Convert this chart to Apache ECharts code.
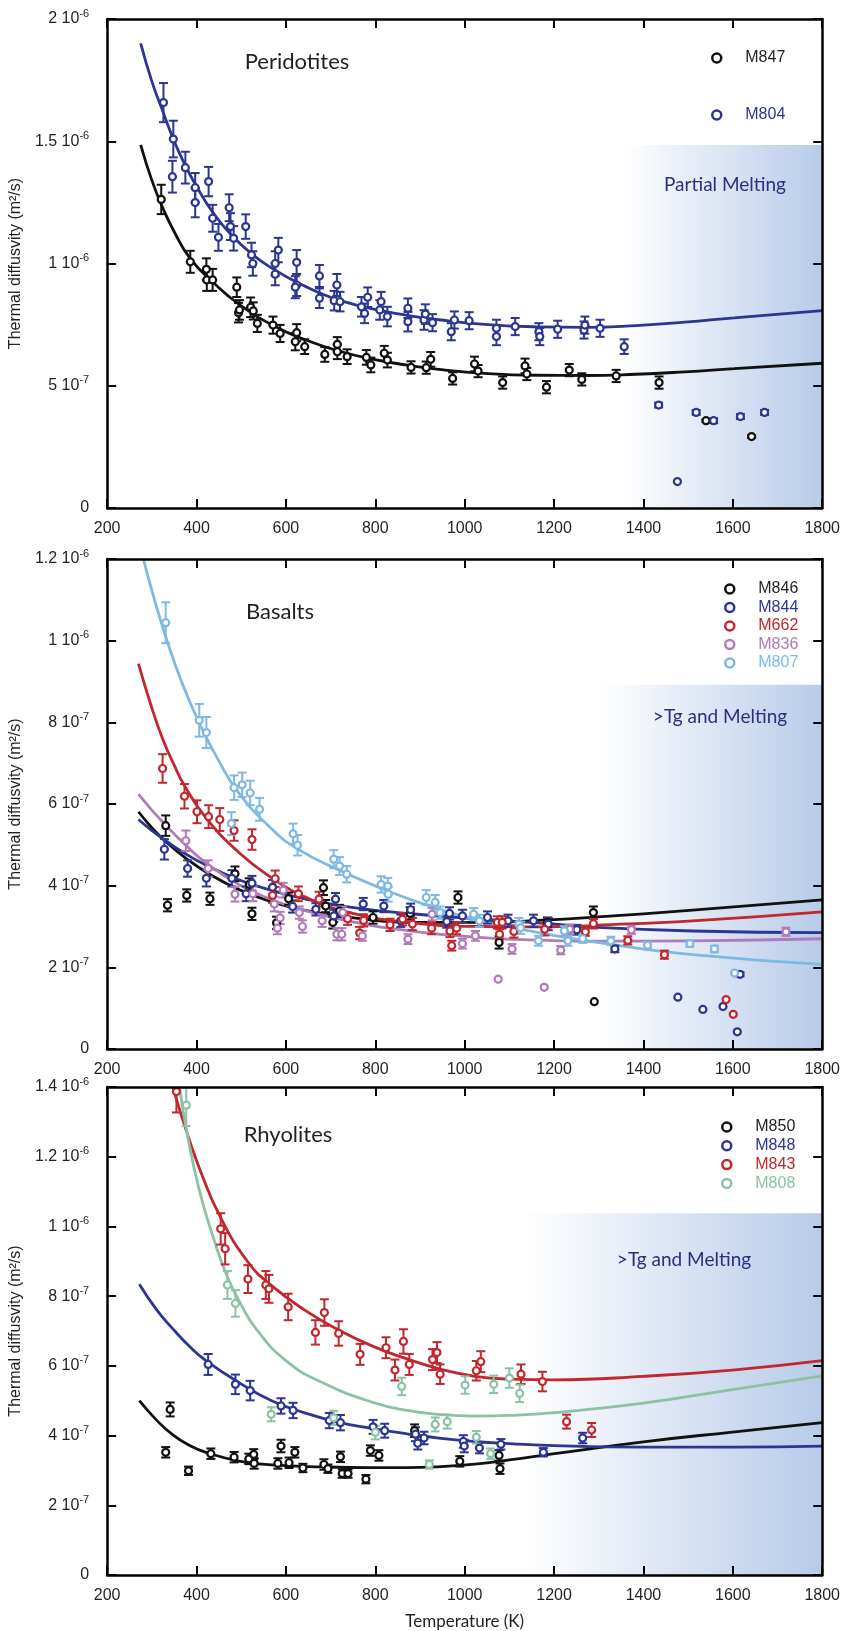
<!DOCTYPE html>
<html>
<head>
<meta charset="utf-8">
<script src="https://cdn.jsdelivr.net/npm/echarts@6/dist/echarts.min.js"></script>
<style>
html,body{margin:0;padding:0;background:#fff;}
#chart{width:843px;height:1631px;}
</style>
</head>
<body>
<div id="chart"></div>
<script>
// ---------- DATA (values in units of 1e-7 m²/s; [T (K), value, error]) ----------
const X_TICK_LABELS = ['200','400','600','800','1000','1200','1400','1600','1800'];
const Y_LABELS_TOP = ['0','5 10^-7','1 10^-6','1.5 10^-6','2 10^-6'];
const Y_LABELS_MID = ['0','2 10^-7','4 10^-7','6 10^-7','8 10^-7','1 10^-6','1.2 10^-6'];
const Y_LABELS_BOT = ['0','2 10^-7','4 10^-7','6 10^-7','8 10^-7','1 10^-6','1.2 10^-6','1.4 10^-6'];

// Peridotites
const M847 = [[321,12.62,0.6],[386,10.07,0.45],[422,9.76,0.45],[423,9.33,0.45],[436,9.33,0.45],[490,9.03,0.4],[494,7.99,0.4],[496,8.10,0.4],[521,8.21,0.4],[527,8.06,0.35],[536,7.55,0.35],[571,7.48,0.35],[587,7.14,0.35],[624,7.17,0.35],[621,6.80,0.35],[642,6.60,0.3],[687,6.28,0.3],[715,6.69,0.3],[715,6.39,0.3],[737,6.19,0.3],[780,6.16,0.3],[790,5.85,0.3],[820,6.33,0.3],[827,6.05,0.3],[880,5.75,0.25],[914,5.74,0.25],[924,6.08,0.3],[973,5.30,0.25],[1022,5.89,0.3],[1030,5.60,0.25],[1085,5.13,0.25],[1135,5.81,0.3],[1139,5.48,0.25],[1183,4.94,0.25],[1234,5.64,0.25],[1262,5.26,0.25],[1339,5.40,0.25],[1435,5.13,0.25],[1540,3.57,0.05],[1642,2.92,0.05]];
const M804 = [[326,16.58,0.8],[348,15.09,0.75],[346,13.55,0.65],[375,13.92,0.65],[397,13.10,0.6],[397,12.49,0.6],[427,13.35,0.6],[436,11.85,0.55],[449,11.07,0.55],[473,12.28,0.55],[476,11.51,0.55],[483,11.03,0.5],[510,11.51,0.5],[523,10.35,0.5],[526,10.00,0.5],[576,10.00,0.5],[576,9.56,0.45],[583,10.55,0.5],[624,10.05,0.5],[624,9.12,0.45],[621,9.03,0.45],[675,9.49,0.45],[675,8.58,0.4],[714,9.12,0.45],[708,8.48,0.4],[721,8.44,0.4],[769,8.23,0.4],[776,7.96,0.4],[783,8.62,0.4],[810,8.10,0.4],[813,8.44,0.4],[827,7.83,0.4],[873,8.17,0.4],[873,7.62,0.4],[909,7.69,0.4],[912,7.93,0.4],[928,7.58,0.35],[970,7.21,0.35],[977,7.69,0.35],[1010,7.66,0.35],[1071,7.35,0.35],[1071,7.01,0.35],[1113,7.42,0.35],[1166,7.21,0.35],[1168,7.01,0.35],[1208,7.31,0.35],[1267,7.28,0.35],[1269,7.48,0.35],[1303,7.35,0.35],[1357,6.60,0.3],[1434,4.21,0.1],[1476,1.08,0],[1518,3.91,0.1],[1557,3.57,0.1],[1617,3.74,0.1],[1671,3.91,0.1]];
const FIT_M847 = [[275,14.85],[300,13.4],[325,12.25],[350,11.3],[386,10.2],[436,9.25],[494,8.35],[576,7.42],[649,6.84],[722,6.4],[796,6.08],[869,5.85],[942,5.67],[1052,5.5],[1162,5.43],[1272,5.42],[1383,5.47],[1493,5.57],[1603,5.7],[1800,5.92]];
const FIT_M804 = [[275,19.0],[300,17.45],[326,16.15],[350,15.0],[375,14.0],[400,13.15],[436,12.1],[476,11.2],[526,10.35],[576,9.73],[621,9.26],[675,8.8],[722,8.48],[796,8.13],[869,7.89],[942,7.7],[1052,7.5],[1162,7.41],[1272,7.39],[1383,7.46],[1493,7.6],[1603,7.78],[1800,8.07]];

// Basalts
const M846 = [[331,5.47,0.25],[335,3.52,0.15],[378,3.76,0.15],[430,3.68,0.15],[486,4.29,0.18],[518,4.03,0.15],[524,3.31,0.15],[579,3.09,0.15],[606,3.68,0.15],[684,3.95,0.18],[689,3.50,0.15],[705,3.10,0.15],[720,3.38,0.15],[795,3.22,0.15],[878,3.32,0.15],[985,3.71,0.15],[1077,2.61,0.15],[1185,3.10,0.12],[1288,3.34,0.15],[1290,1.16,0]];
const M844 = [[328,4.89,0.25],[380,4.42,0.2],[422,4.18,0.2],[479,4.18,0.2],[511,3.80,0.18],[524,4.06,0.18],[570,3.96,0.18],[615,3.49,0.15],[667,3.42,0.15],[711,3.67,0.15],[707,3.26,0.15],[773,3.55,0.15],[819,3.50,0.15],[857,3.14,0.15],[879,3.41,0.15],[960,3.12,0.15],[966,3.32,0.15],[995,3.26,0.15],[1051,3.22,0.15],[1097,3.14,0.15],[1154,3.14,0.15],[1187,3.06,0.15],[1251,2.92,0.12],[1336,2.45,0.08],[1477,1.27,0],[1533,0.97,0],[1578,1.04,0],[1616,1.83,0.05],[1610,0.42,0]];
const M662 = [[324,6.87,0.35],[373,6.19,0.3],[401,5.81,0.28],[427,5.69,0.28],[452,5.62,0.28],[484,5.35,0.25],[524,5.13,0.25],[576,4.17,0.2],[570,3.76,0.18],[628,3.80,0.18],[674,3.67,0.18],[738,3.19,0.15],[765,2.84,0.15],[774,3.15,0.15],[833,3.04,0.15],[861,3.18,0.15],[883,3.06,0.15],[926,2.96,0.15],[967,2.89,0.15],[971,2.53,0.12],[982,2.96,0.15],[1073,3.10,0.15],[1078,2.81,0.12],[1084,3.10,0.15],[1110,2.88,0.15],[1179,2.93,0.15],[1270,2.87,0.1],[1288,3.07,0.12],[1365,2.66,0.1],[1447,2.31,0.1],[1585,1.21,0],[1601,0.85,0]];
const M836 = [[376,5.10,0.25],[426,4.42,0.2],[486,3.79,0.18],[526,3.80,0.18],[574,3.55,0.18],[581,2.96,0.15],[587,3.21,0.15],[594,3.89,0.18],[630,3.34,0.15],[637,3.00,0.15],[681,3.14,0.15],[727,3.34,0.15],[714,2.81,0.15],[725,2.81,0.15],[771,2.77,0.12],[873,2.69,0.12],[927,3.30,0.15],[995,2.58,0.12],[1024,2.77,0.12],[1075,1.71,0],[1106,2.45,0.12],[1178,1.51,0],[1215,2.42,0.1],[1235,2.93,0.12],[1373,2.92,0.1],[1719,2.87,0.1]];
const M807 = [[331,10.44,0.5],[406,8.05,0.4],[422,7.75,0.38],[478,5.52,0.28],[484,6.40,0.3],[502,6.47,0.3],[520,6.27,0.3],[541,5.87,0.28],[616,5.27,0.25],[626,4.99,0.25],[707,4.65,0.22],[720,4.48,0.22],[736,4.28,0.2],[813,4.03,0.2],[828,3.99,0.2],[829,3.79,0.18],[914,3.71,0.18],[934,3.59,0.18],[945,3.34,0.15],[1020,3.30,0.15],[1033,3.14,0.15],[1121,3.06,0.15],[1125,2.97,0.15],[1165,2.65,0.12],[1223,2.89,0.12],[1231,2.65,0.12],[1264,2.70,0.1],[1327,2.65,0.1],[1409,2.54,0.08],[1504,2.58,0.08],[1559,2.45,0.08],[1604,1.86,0]];
const FIT_M846 = [[270,5.81],[300,5.42],[331,5.08],[375,4.68],[422,4.33],[496,3.9],[570,3.6],[637,3.41],[747,3.22],[894,3.1],[1040,3.1],[1187,3.16],[1290,3.23],[1510,3.4],[1800,3.65]];
const FIT_M844 = [[270,5.62],[300,5.35],[331,5.1],[375,4.78],[422,4.5],[496,4.14],[570,3.88],[637,3.69],[747,3.47],[894,3.3],[1040,3.18],[1187,3.07],[1290,2.98],[1510,2.89],[1800,2.85]];
const FIT_M662 = [[270,9.44],[300,8.35],[324,7.6],[350,6.95],[373,6.45],[422,5.65],[496,4.8],[570,4.18],[637,3.75],[747,3.33],[894,3.08],[1040,3.0],[1187,2.99],[1290,3.03],[1510,3.14],[1800,3.36]];
const FIT_M836 = [[270,6.24],[300,5.85],[331,5.48],[375,5.0],[422,4.55],[496,4.02],[570,3.65],[630,3.43],[747,3.12],[894,2.87],[1040,2.73],[1187,2.66],[1290,2.64],[1510,2.65],[1800,2.7]];
const FIT_M807 = [[281,12.0],[306,11.0],[331,10.1],[368,8.95],[406,7.99],[450,7.05],[496,6.25],[570,5.37],[626,4.9],[711,4.42],[821,3.9],[916,3.52],[1004,3.23],[1114,2.96],[1223,2.74],[1327,2.56],[1510,2.31],[1800,2.07]];

// Rhyolites
const M850 = [[331,3.52,0.15],[341,4.75,0.2],[382,2.99,0.12],[432,3.48,0.15],[484,3.38,0.15],[517,3.33,0.15],[528,3.46,0.15],[529,3.20,0.15],[582,3.20,0.15],[589,3.70,0.18],[607,3.22,0.15],[620,3.52,0.15],[638,3.07,0.12],[685,3.17,0.15],[694,3.05,0.12],[722,3.39,0.15],[726,2.91,0.12],[739,2.91,0.12],[779,2.75,0.12],[789,3.57,0.15],[808,3.43,0.15],[888,4.14,0.18],[989,3.26,0.15],[1077,3.43,0.15],[1079,3.05,0.15]];
const M848 = [[426,6.04,0.3],[487,5.47,0.28],[520,5.29,0.28],[589,4.85,0.22],[616,4.72,0.22],[697,4.43,0.22],[722,4.37,0.22],[795,4.25,0.2],[821,4.14,0.2],[890,4.04,0.2],[895,3.78,0.18],[909,3.93,0.18],[997,3.83,0.18],[999,3.70,0.18],[1033,3.64,0.15],[1081,3.75,0.15],[1176,3.52,0.12],[1264,3.93,0.15]];
const M843 = [[355,13.87,0.6],[454,9.93,0.45],[464,9.36,0.45],[515,8.49,0.4],[555,8.32,0.4],[562,8.21,0.4],[605,7.69,0.38],[666,6.96,0.35],[686,7.53,0.38],[718,6.93,0.35],[766,6.33,0.3],[824,6.52,0.3],[844,5.88,0.3],[863,6.70,0.35],[876,6.04,0.3],[928,6.18,0.3],[938,6.38,0.3],[945,5.76,0.28],[1026,5.86,0.28],[1036,6.12,0.3],[1126,5.76,0.28],[1174,5.55,0.28],[1228,4.40,0.2],[1284,4.16,0.2]];
const M808 = [[377,13.48,0.6],[469,8.32,0.4],[487,7.79,0.38],[567,4.61,0.2],[707,4.51,0.2],[800,4.09,0.2],[859,5.41,0.25],[921,3.17,0.12],[934,4.32,0.2],[961,4.40,0.2],[1001,5.45,0.25],[1026,3.95,0.18],[1058,3.48,0.15],[1065,5.47,0.25],[1100,5.65,0.28],[1123,5.21,0.25]];
const FIT_M850 = [[272,5.0],[310,4.45],[347,4.02],[384,3.72],[421,3.52],[495,3.27],[568,3.16],[685,3.1],[795,3.08],[871,3.08],[947,3.11],[1023,3.18],[1100,3.3],[1201,3.48],[1400,3.82],[1599,4.1],[1800,4.37]];
const FIT_M848 = [[272,8.34],[310,7.62],[347,7.06],[384,6.56],[421,6.15],[495,5.52],[568,5.0],[640,4.66],[718,4.38],[795,4.2],[871,4.05],[947,3.92],[1023,3.83],[1100,3.77],[1201,3.71],[1400,3.67],[1599,3.67],[1800,3.7]];
const FIT_M843 = [[347,14.0],[377,12.75],[410,11.55],[454,10.25],[515,8.98],[568,8.3],[642,7.6],[718,7.03],[795,6.56],[871,6.2],[947,5.9],[1023,5.7],[1100,5.62],[1201,5.6],[1400,5.7],[1599,5.88],[1800,6.15]];
const FIT_M808 = [[362,14.0],[377,12.8],[405,11.1],[439,9.62],[469,8.55],[500,7.75],[531,7.1],[600,6.15],[685,5.5],[795,4.95],[871,4.72],[947,4.6],[1023,4.56],[1100,4.58],[1201,4.66],[1400,4.93],[1599,5.32],[1800,5.71]];

// shaded regions [T start, T end, top value]
const MELT_TOP = [1350, 1800, 14.85];
const MELT_MID = [1300, 1800, 8.92];
const MELT_BOT = [1130, 1800, 10.38];

// ---------- STYLE ----------
const C = {black:'#111111', navy:'#2C3592', red:'#C1272D', purple:'#B07BB8', lblue:'#7DB9E3', green:'#8CC2A3', note:'#2E2D80'};
const TICK_FONT = 'Liberation Sans';
const SERIF_FONT = 'Lato';

const chart = echarts.init(document.getElementById('chart'), null, {renderer:'canvas'});

const grids = [
  {left:97, top:19, width:726, height:489},
  {left:99, top:559, width:724, height:490},
  {left:99, top:1087, width:724, height:489}
];
const yMax = [20, 12, 14];
const yInt = [5, 2, 2];
const yLabels = [Y_LABELS_TOP, Y_LABELS_MID, Y_LABELS_BOT];

function yFmt(labels){
  return function(v, i){
    const s = labels[i];
    if (s === undefined) return '';
    const p = s.split('^');
    return p.length > 1 ? '{m|' + p[0] + '}{s|' + p[1] + '}' : '{m|' + p[0] + '}';
  };
}
const axisLineStyle = {color:'#000', width:2.5};
const tickStyle = {show:true, inside:true, length:9, lineStyle:{color:'#000', width:2}};

const xAxis = [], yAxis = [];
grids.forEach((g, k) => {
  xAxis.push({gridIndex:k, type:'value', min:200, max:1800, interval:200, position:'bottom', z:10,
    axisLine:{show:true, onZero:false, lineStyle:axisLineStyle}, axisTick:tickStyle, splitLine:{show:false},
    axisLabel:{show:true, margin:13, color:'#231F20', fontFamily:TICK_FONT, fontSize:16,
      formatter:(v, i) => X_TICK_LABELS[i] !== undefined ? X_TICK_LABELS[i] : ''},
    name: k === 2 ? 'Temperature (K)' : '', nameLocation:'middle', nameGap:38,
    nameTextStyle:{fontFamily:SERIF_FONT, fontSize:17, color:'#231F20'}});
  xAxis.push({gridIndex:k, type:'value', min:200, max:1800, interval:200, position:'top', z:10,
    axisLine:{show:true, onZero:false, lineStyle:axisLineStyle}, axisTick:tickStyle, splitLine:{show:false},
    axisLabel:{show:false}});
  yAxis.push({gridIndex:k, type:'value', min:0, max:yMax[k], interval:yInt[k], position:'left', z:10,
    axisLine:{show:true, onZero:false, lineStyle:axisLineStyle}, axisTick:tickStyle, splitLine:{show:false},
    axisLabel:{show:true, margin:18, color:'#231F20', formatter:yFmt(yLabels[k]),
      rich:{m:{fontFamily:TICK_FONT, fontSize:16, lineHeight:22, color:'#231F20'},
            s:{fontFamily:TICK_FONT, fontSize:11, lineHeight:10, verticalAlign:'top', color:'#231F20'}}},
    name:'Thermal diffusvity (m²/s)', nameLocation:'middle', nameGap:71, nameRotate:90,
    nameTextStyle:{fontFamily:TICK_FONT, fontSize:16, color:'#231F20'}});
  yAxis.push({gridIndex:k, type:'value', min:0, max:yMax[k], interval:yInt[k], position:'right', z:10,
    axisLine:{show:true, onZero:false, lineStyle:axisLineStyle}, axisTick:tickStyle, splitLine:{show:false},
    axisLabel:{show:false}});
});

const series = [];
function melt(k, region){
  series.push({type:'line', name:'melt'+k, xAxisIndex:2*k, yAxisIndex:2*k, data:[], z:0, silent:true,
    markArea:{silent:true, z:0, itemStyle:{color:new echarts.graphic.LinearGradient(0,0,1,0,[
        {offset:0, color:'#FFFFFF'},{offset:0.5, color:'#DCE5F4'},{offset:1, color:'#B7CBE9'}])},
      data:[[{xAxis:region[0], yAxis:region[2]},{xAxis:region[1], yAxis:0}]]}});
}
function fit(k, name, data, color){
  series.push({type:'line', name:name+'_fit', xAxisIndex:2*k, yAxisIndex:2*k, data:data, z:2,
    showSymbol:false, symbol:'none', smooth:0.5, clip:true, silent:true,
    lineStyle:{color:color, width:2.8}});
}
function pts(k, name, data, color){
  series.push({type:'custom', name:name+'_err', xAxisIndex:2*k, yAxisIndex:2*k, data:data, z:3, clip:true, silent:true,
    encode:{x:0, y:1},
    renderItem:function(params, api){
      const x = api.value(0), y = api.value(1), e = api.value(2);
      if (!e) return {type:'group', children:[]};
      const t = api.coord([x, y + e]), b = api.coord([x, y - e]);
      const hw = 4.5;
      const st = {stroke:color, lineWidth:2};
      return {type:'group', children:[
        {type:'line', shape:{x1:t[0], y1:t[1], x2:b[0], y2:b[1]}, style:st},
        {type:'line', shape:{x1:t[0]-hw, y1:t[1], x2:t[0]+hw, y2:t[1]}, style:st},
        {type:'line', shape:{x1:b[0]-hw, y1:b[1], x2:b[0]+hw, y2:b[1]}, style:st}
      ]};
    }});
  series.push({type:'scatter', name:name, xAxisIndex:2*k, yAxisIndex:2*k, data:data, z:4, silent:true,
    encode:{x:0, y:1}, symbol:'circle', symbolSize:7,
    itemStyle:{color:'#ffffff', borderColor:color, borderWidth:2.2, opacity:1}});
}

melt(0, MELT_TOP); melt(1, MELT_MID); melt(2, MELT_BOT);

fit(0,'M847',FIT_M847,C.black); fit(0,'M804',FIT_M804,C.navy);
pts(0,'M847',M847,C.black); pts(0,'M804',M804,C.navy);

fit(1,'M846',FIT_M846,C.black); fit(1,'M844',FIT_M844,C.navy); fit(1,'M662',FIT_M662,C.red);
fit(1,'M836',FIT_M836,C.purple); fit(1,'M807',FIT_M807,C.lblue);
pts(1,'M846',M846,C.black); pts(1,'M844',M844,C.navy); pts(1,'M662',M662,C.red);
pts(1,'M836',M836,C.purple); pts(1,'M807',M807,C.lblue);

fit(2,'M850',FIT_M850,C.black); fit(2,'M848',FIT_M848,C.navy); fit(2,'M843',FIT_M843,C.red); fit(2,'M808',FIT_M808,C.green);
pts(2,'M850',M850,C.black); pts(2,'M848',M848,C.navy); pts(2,'M843',M843,C.red); pts(2,'M808',M808,C.green);

function legendItem(name, color){
  return {name:name, icon:'circle', itemStyle:{color:'#ffffff', borderColor:color, borderWidth:2.5},
    textStyle:{color: color === C.black ? '#231F20' : color}};
}
function legend(left, top, gap, items){
  return {orient:'vertical', left:left, top:top, itemGap:gap, itemWidth:9, itemHeight:9, selectedMode:false,
    padding:0, textStyle:{fontFamily:TICK_FONT, fontSize:16, lineHeight:16, padding:[0,0,0,19]},
    data:items.map(it => legendItem(it[0], it[1]))};
}

const textStyle = (txt, x, y, size, color) => ({type:'text', x:x, y:y, silent:true, z:50,
  style:{text:txt, fill:color, fontFamily:SERIF_FONT, fontSize:size, align:'center', verticalAlign:'middle'}});

chart.setOption({
  animation:false,
  backgroundColor:'#ffffff',
  grid:grids,
  xAxis:xAxis,
  yAxis:yAxis,
  legend:[
    legend(711, 50, 41, [['M847',C.black],['M804',C.navy]]),
    legend(724, 581, 2.5, [['M846',C.black],['M844',C.navy],['M662',C.red],['M836',C.purple],['M807',C.lblue]]),
    legend(721, 1119, 2.8, [['M850',C.black],['M848',C.navy],['M843',C.red],['M808',C.green]])
  ],
  graphic:[
    textStyle('Peridotites', 297, 62, 22, '#231F20'),
    textStyle('Partial Melting', 725, 185, 19, C.note),
    textStyle('Basalts', 280, 612, 22, '#231F20'),
    textStyle('>Tg and Melting', 720, 717, 19, C.note),
    textStyle('Rhyolites', 288, 1135, 22, '#231F20'),
    textStyle('>Tg and Melting', 684, 1260, 19, C.note)
  ],
  series:series
});
</script>
</body>
</html>
